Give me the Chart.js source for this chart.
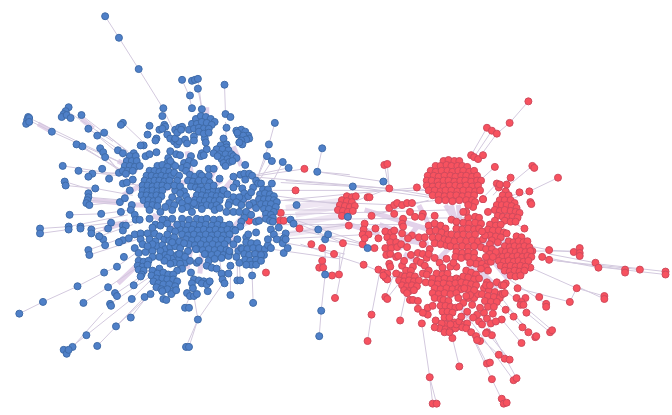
<!DOCTYPE html>
<html>
<head>
<meta charset="utf-8">
<title>Network</title>
<script src="https://cdn.jsdelivr.net/npm/chart.js@4/dist/chart.umd.js"></script>
<style>
  html, body { margin: 0; padding: 0; background: #fff; }
  #chart { display: block; }
</style>
</head>
<body>
<canvas id="chart" width="672" height="415"></canvas>
<script>
// node positions, [x, y]
const blueOuter = [[102,12],[116,34],[136,66],[161,106],[160,114],[180,77],[190,78],[193,77],[196,76],[196,86],[188,93],[190,106],[200,107],[223,82],[224,112],[229,115],[225,126],
  [24,115],[23,118],[25,116],[22,122],[25,120],[48,130],[65,105],[62,109],[60,112],[58,115],[63,113],[67,116],[78,113],[85,127],[94,134],[101,131],[73,143],[79,145],[97,147],[100,151],[102,156],[115,149],[120,152],[120,121],[118,123],
  [59,165],[75,170],[89,173],[99,168],[85,176],[106,178],[61,181],[62,185],[92,188],[116,172],[120,183],[124,182],[130,179],[127,190],[117,202],[122,198],[129,205],[85,193],[85,197],[84,200],[83,203],[86,205],
  [66,215],[98,214],[118,212],[36,229],[36,234],[65,227],[65,230],[77,227],[77,229],[88,230],[88,234],[108,223],[105,229],[120,226],[123,226],[120,231],[96,237],[100,240],[102,246],[116,243],[120,241],[126,239],[85,251],[86,256],[121,258],[114,268],[101,274],[74,288],[105,289],[131,287],[129,301],[142,299],[148,296],[39,304],[15,316],[80,305],[112,295],[114,298],[107,306],[108,308],[128,320],[113,329],[83,338],[94,349],[69,350],[60,353],[63,357],[65,353],[184,350],[187,350],[196,322],[183,310],[187,310],[206,293],[229,297],[252,305],[251,277],[236,282],[239,282],[220,275],[227,275],[221,281],[223,285],[229,267],[238,264],
  [274,121],[268,143],[266,155],[271,160],[282,161],[288,167],[317,171],[322,147],[271,183],[296,205],[318,230],[325,240],[328,235],[325,276],[321,313],[319,339],[353,186],[384,181],[348,217],[368,249]];

const blueUpper = [[147,124],[145,133],[154,137],[153,139],[157,128],[162,123],[163,125],[160,127],[165,133],[168,137],[172,140],[175,143],[177,140],[173,137],[173,128],[177,126],[180,125],[175,131],[179,128],[183,138],[187,128],[192,135],[185,142],[192,139],[203,137],[204,141],[222,137],[225,143],[141,144],[138,144],[143,155],[147,153],[154,151],[168,150],[174,153],[178,154],[189,155],[200,152],[205,148],[199,155],[202,154],[166,157],[170,163],[173,165],[165,162],[168,160],[182,162],[187,160],[192,162],[180,167],[185,165],[184,170],
  [190,122],[194,117],[199,114],[204,115],[209,117],[213,120],[195,122],[200,120],[205,121],[210,123],[192,127],[197,126],[202,127],[207,127],[197,130],[202,132],[207,131],
  [235,129],[240,128],[244,130],[247,134],[248,137],[237,133],[242,134],[245,138],[240,139],[241,143],[238,141],[236,131],
  [219,144],[225,146],[215,148],[221,148],[227,149],[212,152],[218,153],[224,153],[230,153],[220,158],[226,158],[232,155],[235,157],[222,162],[228,161],[224,165],[231,160],[216,155],
  [131,152],[127,155],[133,155],[124,160],[129,160],[134,160],[122,165],[127,165],[132,166],[137,165],[120,170],[125,170],[130,170],[123,173]];

const blueCore = [[155,165],[160,164],[165,166],[147,170],[152,170],[157,171],[162,170],[167,171],[144,175],[149,175],[154,176],[159,175],[164,176],[169,175],[142,180],[147,181],[152,180],[157,180],[162,181],[167,180],[140,185],[145,185],[150,186],[155,185],[160,185],[165,186],[140,190],[145,191],[150,190],[155,191],[160,190],[139,195],[144,195],[149,196],[154,195],[159,196],[141,200],[146,200],[151,201],[156,200],[145,205],[150,205],[155,206],
  [188,174],[193,176],[198,173],[186,180],[191,181],[196,182],[189,186],[194,187],[199,186],[203,191],[207,168],[212,168],[200,175],[207,175],[197,180],[203,180],[208,182],[218,178],
  [197,190],[202,190],[207,191],[212,190],[217,191],[221,190],[195,195],[200,195],[205,196],[210,195],[215,196],[220,195],[193,200],[198,200],[203,201],[208,200],[213,201],[218,200],[190,205],[195,205],[200,206],[205,205],[210,206],[215,205],
  [173,190],[170,197],[177,200],[167,203],[172,205],[180,203],[185,207],[192,203],[163,207],[147,210],[158,212],[170,210],[180,209],[190,212],[200,209],[213,210],[218,208],
  [172,172],[177,175],[175,180],[172,185],[178,186],[182,191],[178,193],[184,196],[186,200],[206,186],[212,185],
  [163,220],[170,219],[180,219],[187,220],[195,219],[200,220],[205,219],[212,220],[218,220],[180,225],[186,226],[192,225],[198,226],[204,225],[210,226],[216,225],[222,226],[228,225],
  [178,230],[184,231],[190,230],[196,231],[202,230],[208,231],[214,230],[220,231],[226,230],[232,230],[180,235],[186,236],[192,235],[198,236],[204,235],[210,236],[216,235],[222,236],[228,235],
  [184,240],[190,241],[196,240],[202,241],[208,240],[214,241],[220,240],[226,241],[187,245],[193,246],[199,245],[205,246],[211,245],[217,246],[223,245],[195,250],[201,251],[207,250],[213,251],[219,250],[225,251],[204,255],[210,256],[216,255],[222,256],[228,254],
  [244,164],[239,174],[243,173],[248,173],[251,175],[244,179],[232,176],[255,180],[257,183],[260,183],[252,187],[235,183],[232,187],[241,188],[243,193],[242,199],[232,197],[238,197],[228,202],[235,202],[227,205],[252,203],[240,205],[222,190],[226,194],
  [247,196],[250,192],[248,205],[255,208],[245,212],[232,212],[238,212],[225,212],[243,218],[250,215],
  [262,189],[267,189],[259,194],[264,193],[269,194],[273,196],[258,199],[263,199],[268,199],[273,200],[276,202],[260,204],[265,204],[270,204],[275,207],[263,209],[268,209],[273,212],[265,214],[270,215],[272,218],[265,219],[269,221]];

const blueLower = [[128,210],[132,215],[133,220],[137,220],[147,219],[153,225],[160,220],[165,224],[168,230],[173,232],[132,235],[138,234],[145,234],[152,234],[157,237],[162,240],[167,241],[138,240],[147,240],[153,242],[140,245],[155,247],[160,246],[132,249],[136,254],[143,253],[150,252],[163,250],[168,248],[173,247],[158,252],[163,256],[168,254],[170,260],[175,256],[177,260],[180,256],[183,264],[177,242],[178,249],[177,255],[194,250],[203,255],[207,262],[213,260],[220,259],[227,257],[228,252],[237,252],[240,249],[195,264],[197,262],[205,267],[210,269],[215,270],[172,264],[178,265],[165,259],
  [150,228],[158,226],[175,225],[172,238],[165,235],[150,245],[145,247],[168,265],[162,262],[157,258],[150,258],[182,244],[170,243],[186,252],[183,258],[188,262],[180,270],[175,272],[236,240],[232,245],[245,238],[235,258],
  [136,262],[141,263],[146,262],[135,267],[140,268],[145,266],[136,271],[141,272],[139,276],[138,278],
  [157,270],[150,272],[155,275],[161,274],[166,276],[171,276],[149,277],[154,280],[160,280],[165,281],[171,281],[175,283],[151,283],[156,285],[161,286],[167,286],[173,288],[154,289],[159,291],[165,291],[171,293],[169,296],[174,292],[160,293],[161,301],[164,302],
  [189,274],[192,281],[190,285],[191,290],[185,295],[188,298],[192,298],[195,296],[197,282],[202,283],[207,284],[200,285],[205,286],[208,283],
  [245,243],[250,244],[256,244],[241,250],[246,250],[252,249],[258,249],[264,250],[263,256],[243,255],[248,256],[254,255],[260,256],[244,261],[249,262],[255,261],[250,266],[255,266],[260,262],[245,266],[267,246],
  [240,222],[239,227],[255,222],[258,221],[247,235],[255,233],[234,231],[272,222],[270,230],[273,235],[285,234],[283,239],[282,244],[285,240],[270,249],[267,240],[290,220],[293,224],[283,254],[287,249],[278,228],[276,240],
  [116,243],[96,237]];

const redStray = [[304,168],[295,190],[280,213],[279,221],[283,221],[248,221],[299,229],[311,245],[322,249],[322,262],[319,269],[323,269],[332,277],[334,255],[265,274],[257,255],[335,300]];

const redOuter = [[531,99],[512,121],[489,126],[494,129],[499,132],[473,154],[476,156],[480,158],[485,154],[497,166],[535,165],[537,167],[513,177],[561,177],[499,183],[501,187],[502,184],[509,184],[522,192],[532,191],[485,199],[533,202],[534,204],[418,187],[390,188],[385,164],[388,163],[368,197],[370,197],
  [390,208],[395,205],[398,203],[403,205],[408,203],[413,203],[349,226],[372,216],[343,244],[363,245],[375,249],[364,266],[339,276],[372,317],[368,344],[386,299],[388,301],[401,323],[423,326],[431,381],[434,408],[438,408],[454,341],[461,370],[494,383],[504,403],[506,408],[509,407],[516,384],[519,382],[489,367],[492,366],[501,358],[507,362],[512,363],[524,346],[538,340],[539,339],[553,335],[555,333],[525,330],[531,335],[529,315],[516,319],[508,312],[504,322],[573,304],[549,306],[549,309],[542,299],[580,290],[608,298],[608,301],[520,290],[519,300],[528,300],[524,304],[523,307],[526,307],[599,264],[602,269],[629,271],[629,274],[644,271],[670,273],[670,276],[552,251],[545,258],[552,261],[577,253],[583,249],[583,254],[583,257],[533,269],[527,229],[535,252]];

const redBlobTop = [[445,160],[450,159],[456,160],[461,160],[437,165],[442,165],[448,164],[453,165],[459,165],[464,165],[469,166],[432,170],[437,171],[443,170],[449,170],[454,171],[460,170],[465,170],[471,171],[476,170],[429,175],[435,175],[440,176],[446,175],[452,175],[457,176],[463,175],[468,175],[474,176],[479,175],[428,180],[433,180],[439,181],[445,180],[450,180],[456,181],[462,180],[467,180],[473,181],[479,180],[483,180],[428,185],[434,186],[440,185],[445,186],[451,185],[457,185],[462,186],[468,185],[474,186],[480,185],[430,190],[436,190],[442,191],[447,190],[453,190],[459,191],[465,190],[471,190],[477,191],[482,190],[434,195],[440,195],[446,196],[452,195],[458,195],[464,196],[470,195],[476,195],[440,200],[447,200],[454,201],[461,200],[468,200],[474,200]];

const redBlobRight = [[508,191],[505,195],[511,195],[502,200],[507,200],[513,200],[517,203],[499,205],[504,205],[509,205],[514,206],[519,208],[497,210],[502,211],[507,210],[513,211],[518,212],[522,213],[500,216],[505,217],[510,217],[515,217],[520,218],[507,221],[513,222],[518,222],
  [519,237],[524,238],[511,242],[516,243],[521,242],[526,243],[530,242],[507,247],[512,248],[517,247],[522,248],[527,247],[532,248],[503,252],[508,253],[513,252],[518,253],[523,252],[528,253],[533,252],[500,257],[505,258],[510,257],[515,258],[520,257],[525,258],[530,257],[534,258],[501,262],[506,263],[511,262],[516,263],[521,262],[526,263],[531,262],[503,267],[508,268],[513,267],[518,268],[523,267],[528,268],[507,272],[512,273],[517,272],[522,273],[527,272],[513,277],[518,278],[523,277]];

const redLeftBlob = [[347,196],[352,197],[356,196],[342,200],[347,201],[352,202],[340,205],[345,206],[350,207],[355,206],[338,210],[343,211],[348,212],[353,211],[342,216],[348,217]];

const redCore = [[430,226],[436,224],[442,226],[447,229],[431,232],[437,231],[443,233],[449,235],[434,238],[440,238],[446,240],[436,244],[442,245],[448,246],
  [470,218],[477,217],[481,218],[465,223],[471,224],[477,223],[483,224],[458,229],[464,230],[470,229],[476,230],[481,229],[453,235],[459,236],[465,235],[471,236],[477,235],[450,241],[456,242],[462,241],[468,242],[474,241],[480,242],[452,247],[458,248],[464,247],[470,248],[476,247],[483,248],[458,253],[464,254],[470,253],[476,254],[457,258],[463,259],[469,258],
  [497,221],[492,225],[498,226],[503,225],[490,230],[495,231],[501,231],[506,233],[492,236],[498,237],[503,238],[494,241],[500,243],[492,245],[509,234],
  [490,212],[453,220],[436,216],[424,214],[423,217],[416,217],[411,212],[395,214],[404,219],[403,224],[404,227],[403,234],[420,238],[413,236],[409,239],[376,229],[379,239],[365,224],[364,230],[363,235],[369,235],[365,239],[485,199],[477,202],[475,207],[470,205],[468,212],[465,212],
  [386,232],[392,233],[395,231],[388,238],[394,238],[391,243],[397,243],[386,249],[392,249],[398,248],[402,245],[387,256],[391,255],[397,258],[399,257],[390,265],[391,268],[403,267],[412,256],[419,254],[424,255],[428,259],[418,262],[422,264],[426,267],[436,259],[431,250],
  [424,245],[426,238],[408,248],[405,262],[414,268],[430,272],[470,300],[465,305],[486,315],[476,300],[480,296],[495,316],[458,268],[452,268],[448,260],[455,264],[485,240],[487,236],[484,232],[458,222],[430,255],
  [379,271],[384,274],[388,275],[386,279],[388,281],[384,277],
  [407,272],[412,272],[401,277],[406,278],[411,277],[416,278],[400,282],[405,283],[410,282],[415,283],[420,282],[403,287],[408,288],[413,287],[418,288],[405,292],[410,293],[415,292],[408,295],[424,275],[428,276],[397,275],[427,284],[411,302],[414,302],[419,303],[419,311],[426,315],[429,317],[424,315],[429,310],[434,308],
  [441,264],[444,269],[438,275],[444,276],[449,275],[434,280],[440,281],[446,280],[452,281],[458,280],[462,281],[433,285],[439,286],[445,285],[451,286],[457,285],[436,290],[442,291],[448,290],[454,291],[460,290],[463,291],[434,295],[440,296],[446,295],[452,296],[458,295],[436,300],[442,301],[460,300],
  [445,302],[450,303],[442,308],[447,308],[452,309],[457,310],[444,314],[449,314],[454,315],[446,320],[451,320],[447,327],[456,325],[437,323],[443,326],[441,331],[447,332],[452,333],[457,331],[458,327],[452,327],[446,335],[451,335],[461,324],[436,330],
  [468,272],[473,274],[478,276],[465,278],[470,279],[476,281],[481,280],[463,284],[468,285],[473,286],[478,287],[470,291],[476,292],[466,290],[472,297],[468,298],
  [470,258],[476,259],[481,262],[478,265],[484,265],[472,264],[488,268],[490,272],[483,270],[490,262],[493,263],[488,250],[494,250],[492,255],[498,253],[488,258],[495,258],
  [486,290],[491,292],[497,294],[503,296],[484,296],[490,298],[496,299],[502,300],[487,303],[493,304],[499,304],[490,309],[496,309],[505,296],[507,295],[489,284],[488,287],[492,287],[499,284],[504,287],[508,285],[506,287],
  [474,307],[482,310],[469,314],[479,317],[463,319],[475,320],[481,324],[484,327],[489,321],[493,326],[498,324],[466,327],[469,326],[464,330],[468,331],[473,335],[478,339],[482,344],[479,343],[489,335],[494,338],[488,336],[461,309]];

// thin grey links, [x1, y1, x2, y2]
const thinLinks = [[102,12,116,34],[116,34,136,66],[136,66,160,105],[160,105,172,130],[180,77,187,93],[187,93,190,106],[196,86,200,107],[196,76,200,107],[223,82,224,112],[224,120,225,145],[274,121,268,143],[268,143,258,172],[322,147,317,171],[317,171,350,174],[288,167,250,175],[282,161,270,185],[266,155,255,180],[271,160,258,180],[304,168,250,176],
  [24,118,48,130],[48,130,125,165],[25,116,125,165],[78,113,125,150],[85,127,125,155],[101,131,130,155],[94,134,130,165],[73,143,120,170],[79,145,125,175],[97,147,120,175],[115,149,125,155],[120,121,145,145],[65,110,110,140],[100,151,115,170],[59,165,125,175],[75,170,115,175],[89,173,116,172],[61,181,90,190],[62,185,92,188],[92,188,130,195],[85,197,120,200],[85,200,118,203],[85,205,115,202],[116,172,140,190],[120,183,140,185],
  [36,229,66,227],[36,234,65,230],[65,227,125,215],[77,227,118,222],[66,215,98,214],[98,214,128,210],[88,230,130,222],[88,234,110,228],[85,251,130,235],[86,256,135,240],[96,237,130,225],[15,316,39,304],[39,304,74,288],[74,288,101,274],[101,274,114,268],[114,268,136,252],[80,305,105,289],[105,289,140,265],[112,296,150,270],[107,306,148,278],[131,287,148,270],[129,301,150,280],[83,338,129,301],[63,354,83,338],[69,350,100,315],[94,349,142,299],[113,329,148,296],[128,320,155,285],
  [187,350,196,322],[184,350,196,322],[196,322,192,298],[196,322,225,280],[183,310,188,298],[252,305,251,277],[251,277,251,260],[229,297,229,267],[239,282,238,264],[236,282,236,262],[220,275,218,260],
  [283,200,420,187],[250,176,390,188],[270,190,430,190],[270,195,345,205],[275,200,400,205],[275,210,345,210],[275,215,450,210],[280,225,400,225],[275,235,350,225],[275,240,370,235],[270,250,340,260],[265,240,345,255],[275,220,470,218],[280,215,365,245],[285,180,388,188],[317,171,384,181],[384,181,390,188],[353,186,280,182],[353,186,430,197],
  [531,99,512,121],[512,121,499,132],[499,132,480,158],[494,129,476,156],[489,126,473,154],[497,166,484,178],[535,165,505,190],[561,177,532,191],[513,177,495,195],[532,191,512,200],[522,192,505,200],[385,164,390,188],[388,163,390,188],[390,188,430,195],[418,187,440,195],[390,188,345,205],[372,216,430,200],[413,203,440,200],[498,184,478,205],
  [372,317,368,344],[372,317,381,270],[401,323,407,295],[423,326,431,381],[431,381,434,408],[431,381,438,408],[454,341,461,370],[494,383,506,408],[494,383,470,330],[516,384,470,320],[519,382,480,310],[489,367,465,320],[501,358,470,330],[512,363,485,330],[524,346,504,322],[538,340,510,310],[553,335,529,315],[555,333,505,290],[525,330,495,300],[531,335,500,295],[573,304,520,290],[549,306,510,280],[608,298,580,290],[580,290,533,269],[580,290,573,304],[608,301,580,288],[670,273,600,265],[670,276,600,268],[644,271,560,262],[629,271,552,261],[599,264,552,255],[602,269,545,258],[577,253,552,251],[583,252,535,252],[552,251,500,240],[527,229,500,215],
  [339,276,345,248],[339,276,340,255],[336,300,340,280],[321,313,325,276],[319,339,321,313],[325,276,325,250],[388,300,410,272],[386,299,395,275],[364,266,300,245],[364,266,420,290],[343,244,300,225],[363,245,295,230],[375,249,320,240]];

// thick pale bands where many links run together
const bandLinks = [[135,170,115,160],[205,105,205,125],[160,190,200,175],[185,150,190,175],[180,205,220,180],[230,180,210,205],[235,200,260,205],[230,230,260,195],[240,225,270,215],[170,250,195,225],[185,270,190,245],[235,250,225,225],[150,215,175,230],[165,160,170,185],[215,165,205,185],[130,205,150,205],[100,230,125,222],[78,117,90,127],[34,122,48,130],[89,200,118,203],[220,255,232,235],[139,262,115,285],[198,275,200,255],[138,185,120,195],[240,165,232,145],
  [453,205,458,225],[447,205,462,230],[460,205,462,225],[495,235,478,250],[510,240,490,250],[430,245,400,240],[420,225,400,250],[470,265,490,285],[480,270,500,290],[495,262,510,280],[405,255,430,270],[380,225,420,240],[350,225,380,235],[365,210,430,230],[460,305,470,320],[460,240,440,260],[435,235,420,205]];

// the bundle between the two communities is fainter than the bands above
const bridgeLinks = [[295,215,345,205],[290,225,345,215],[285,235,350,225],[285,208,345,200]];

const toPoints = (list) => list.map(([x, y]) => ({ x, y }));

// a NaN point breaks the line, so one dataset can hold all the links
const toSegments = (list) => {
  const out = [];
  list.forEach(([x1, y1, x2, y2]) => {
    out.push({ x: x1, y: y1 }, { x: x2, y: y2 }, { x: NaN, y: NaN });
  });
  return out;
};

const nodeSet = (list, fill, edge) => ({
  type: "scatter",
  data: toPoints(list),
  backgroundColor: fill,
  borderColor: edge,
  borderWidth: 1,
  pointRadius: 3.5,
  pointHoverRadius: 3.5,
  clip: false,
  order: 1,
});

const linkSet = (list, color, width, order) => ({
  type: "scatter",
  data: toSegments(list),
  showLine: true,
  borderColor: color,
  borderWidth: width,
  pointRadius: 0,
  spanGaps: false,
  order,
});

new Chart(document.getElementById("chart"), {
  type: "scatter",
  data: {
    datasets: [
      linkSet(bandLinks, "#e3d2ea", 5, 4),
      linkSet(bridgeLinks, "#efe6f3", 6, 3),
      linkSet(thinLinks, "#d3c9de", 1, 2),
      nodeSet(blueOuter.concat(blueUpper, blueCore, blueLower), "#4f80c8", "#3f6ba8"),
      nodeSet(redOuter.concat(redStray, redBlobTop, redBlobRight, redLeftBlob, redCore), "#f7525f", "#cf4a5c"),
    ],
  },
  options: {
    responsive: false,
    animation: false,
    events: [],
    layout: { padding: 0 },
    plugins: { legend: { display: false }, tooltip: { enabled: false } },
    scales: {
      x: { type: "linear", display: false, min: 0, max: 672 },
      y: { type: "linear", display: false, min: 0, max: 415, reverse: true },
    },
  },
});
</script>
</body>
</html>
